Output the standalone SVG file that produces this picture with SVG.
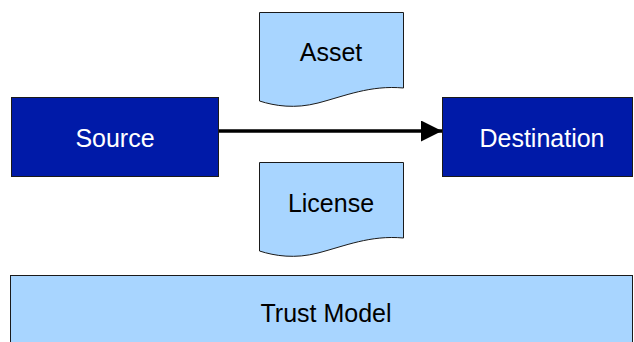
<svg xmlns="http://www.w3.org/2000/svg" width="634" height="342" viewBox="0 0 634 342">
  <style>
    .dark { fill: #001aa8; stroke: #1a1a1a; stroke-width: 1; }
    .light { fill: #a8d5ff; stroke: #1a1a1a; stroke-width: 1; }
    .label { font-family: "Liberation Sans", Arial, sans-serif; font-size: 25px; text-anchor: middle; }
    .white { fill: #ffffff; }
    .black { fill: #000000; }
  </style>
  <defs>
    <marker id="arrowhead" markerWidth="6" markerHeight="6" refX="6" refY="3" orient="auto" markerUnits="strokeWidth">
      <path d="M0,0 L6,3 L0,6 Z" fill="#000"/>
    </marker>
  </defs>

  <!-- Connectors -->
  <g id="connectors">
    <line x1="219" y1="131" x2="442" y2="131" stroke="#000" stroke-width="3.5" marker-end="url(#arrowhead)"/>
  </g>

  <!-- Nodes -->
  <g id="source">
    <rect class="dark" x="11.5" y="97.5" width="207" height="79"/>
    <text class="label white" x="115" y="147">Source</text>
  </g>

  <g id="destination">
    <rect class="dark" x="442.5" y="97.5" width="190" height="79"/>
    <text class="label white" x="542" y="147">Destination</text>
  </g>

  <g id="asset">
    <path class="light" d="M259.5,12.5 H403.5 V88 C370,85 345,96 318,103 C295,109 275,106 259.5,101 Z"/>
    <text class="label black" x="331" y="61">Asset</text>
  </g>

  <g id="license">
    <path class="light" d="M259.5,162.5 H403.5 V238 C370,235 345,246 318,253 C295,259 275,256 259.5,251 Z"/>
    <text class="label black" x="331" y="212">License</text>
  </g>

  <g id="trust-model">
    <rect class="light" x="10.5" y="275.5" width="622" height="80"/>
    <text class="label black" x="326" y="322">Trust Model</text>
  </g>
</svg>
